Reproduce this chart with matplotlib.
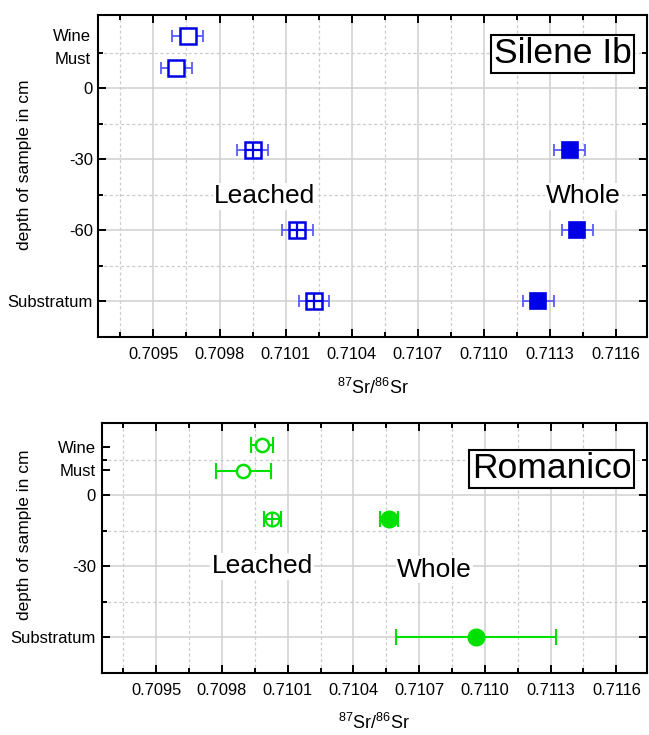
import matplotlib
matplotlib.use('Agg')
from matplotlib import pyplot as plt

plt.rcParams['font.family'] = ['Liberation Sans', 'DejaVu Sans']
plt.rcParams['mathtext.fontset'] = 'custom'
plt.rcParams['mathtext.rm'] = 'Liberation Sans'
plt.rcParams['mathtext.it'] = 'Liberation Sans:italic'

# Silene Ib
sil_sample_x = [0.709656, 0.709604]
sil_sample_err = [0.00007, 0.00007]
sil_sample_depth = [22, 8.5]
sil_sample_lab = ['Wine', 'Must']
sil_sample_labpos = [22, 12]
sil_leach_x = [0.709951, 0.710152, 0.710229]
sil_leach_err = [0.00007, 0.00007, 0.00007]
sil_leach_depth = [-26, -60, -90]
sil_whole_x = [0.711389, 0.711423, 0.711246]
sil_whole_err = [0.00007, 0.00007, 0.00007]
sil_whole_depth = [-26, -60, -90]

# Romanico
rom_sample_x = [0.709982, 0.709898]
rom_sample_err = [0.000049, 0.000126]
rom_sample_depth = [21, 10]
rom_leach_x = [0.71003]
rom_leach_err = [0.00004]
rom_leach_depth = [-10]
rom_whole_x = [0.710561, 0.710961]
rom_whole_err = [0.000042, 0.000365]
rom_whole_depth = [-10, -60]

xticks = [0.7095, 0.7098, 0.7101, 0.7104, 0.7107, 0.7110, 0.7113, 0.7116]
xticklabels = ['0.7095', '0.7098', '0.7101', '0.7104', '0.7107', '0.7110', '0.7113', '0.7116']
xminor = [0.70935, 0.70965, 0.70995, 0.71025, 0.71055, 0.71085, 0.71115, 0.71145]

blue = '#0000e6'
blue_err = '#5a5aff'
green = '#00e000'


def style(ax, ylim, yticks, ylabels, yminor, lab_x, lab_y, xlab_y):
    ax.set_xlim(0.70925, 0.71174)
    ax.set_ylim(*ylim)
    ax.set_xticks(xticks)
    ax.set_xticklabels(xticklabels, fontsize=11.8)
    ax.set_xticks(xminor, minor=True)
    ax.set_yticks(yticks)
    ax.set_yticklabels(ylabels, fontsize=12)
    ax.set_yticks(yminor, minor=True)
    ax.grid(which='major', color='#d0d0d0', lw=1.1, ls='-')
    ax.grid(which='minor', color='#cccccc', lw=0.9, ls=(0, (2.5, 2)))
    ax.set_axisbelow(True)
    ax.tick_params(which='both', direction='in', top=True, right=True, width=1.4)
    ax.tick_params(which='major', length=6)
    ax.tick_params(which='minor', length=3.5)
    ax.tick_params(axis='x', pad=7)
    ax.tick_params(axis='y', pad=4)
    for s in ax.spines.values():
        s.set_linewidth(1.5)
    ax.set_xlabel(r'$^{87}$Sr/$^{86}$Sr', fontsize=13)
    ax.xaxis.set_label_coords(0.5, xlab_y)
    ax.set_ylabel('depth of sample in cm', fontsize=12.5)
    ax.yaxis.set_label_coords(lab_x, lab_y)


fig = plt.figure(figsize=(6.49, 7.35), dpi=100)
ax1 = fig.add_axes([0.1515, 0.5415, 0.8455, 0.4381])
ax2 = fig.add_axes([0.1564, 0.0839, 0.8405, 0.3401])

# top panel
style(ax1, (-105, 31), [0, -30, -60, -90], ['0', '-30', '-60', 'Substratum'],
      [15, -15, -45, -75], -0.12, 0.534, -0.128)
ek = dict(fmt='none', ecolor=blue_err, elinewidth=1.3, capsize=4.2, capthick=1.3)
ax1.errorbar(sil_sample_x, sil_sample_depth, xerr=sil_sample_err, **ek)
ax1.errorbar(sil_leach_x, sil_leach_depth, xerr=sil_leach_err, **ek)
ax1.errorbar(sil_whole_x, sil_whole_depth, xerr=sil_whole_err, **ek)
ax1.plot(sil_sample_x, sil_sample_depth, 's', ms=11.5, mfc='white', mec=blue, mew=1.8, ls='none')
ax1.plot(sil_leach_x, sil_leach_depth, 's', ms=11.5, mfc='white', mec=blue, mew=1.8, ls='none')
ax1.plot(sil_leach_x, sil_leach_depth, '+', ms=11.5, mec=blue, mew=1.6, ls='none')
ax1.plot(sil_whole_x, sil_whole_depth, 's', ms=12, mfc=blue, mec=blue, mew=1.2, ls='none')
for lab, y in zip(sil_sample_lab, sil_sample_labpos):
    ax1.text(-0.014, y, lab, transform=ax1.get_yaxis_transform(), ha='right', va='center', fontsize=12)
wb = dict(fc='white', ec='none', pad=1)
ax1.text(0.710006, -48.6, 'Leached', fontsize=19, ha='center', va='baseline', bbox=wb)
ax1.text(0.711452, -48.6, 'Whole', fontsize=19, ha='center', va='baseline', bbox=wb)
ax1.text(0.846, 0.879, 'Silene Ib', transform=ax1.transAxes, fontsize=25.5, ha='center', va='center',
         bbox=dict(boxstyle='square,pad=0.07', fc='white', ec='black', lw=1.5))

# bottom panel
style(ax2, (-75.3, 30.3), [20.5, 10.5, 0, -30, -60], ['Wine', 'Must', '0', '-30', 'Substratum'],
      [15, -15, -45], -0.128, 0.553, -0.158)
for t in ax2.yaxis.get_major_ticks()[:2]:
    t.gridline.set_visible(False)
    t.tick2line.set_visible(False)
gk = dict(fmt='none', ecolor=green, elinewidth=1.5, capsize=6, capthick=1.5)
ax2.errorbar(rom_sample_x, rom_sample_depth, xerr=rom_sample_err, **gk)
ax2.errorbar(rom_leach_x, rom_leach_depth, xerr=rom_leach_err, **gk)
ax2.errorbar(rom_whole_x, rom_whole_depth, xerr=rom_whole_err, **gk)
ax2.plot(rom_sample_x, rom_sample_depth, 'o', ms=9.5, mfc='white', mec=green, mew=1.8, ls='none')
ax2.plot(rom_leach_x, rom_leach_depth, 'o', ms=10, mfc='white', mec=green, mew=1.6, ls='none')
ax2.plot(rom_leach_x, rom_leach_depth, '+', ms=10, mec=green, mew=1.4, ls='none')
ax2.plot(rom_whole_x, rom_whole_depth, 'o', ms=12, mfc=green, mec=green, ls='none')
ax2.text(0.709983, -33.1, 'Leached', fontsize=19, ha='center', va='baseline', bbox=wb)
ax2.text(0.710769, -34.5, 'Whole', fontsize=19, ha='center', va='baseline', bbox=wb)
ax2.text(0.825, 0.818, 'Romanico', transform=ax2.transAxes, fontsize=25.5, ha='center', va='center',
         bbox=dict(boxstyle='square,pad=0.07', fc='white', ec='black', lw=1.5))

fig.savefig('out.png', dpi=100)
